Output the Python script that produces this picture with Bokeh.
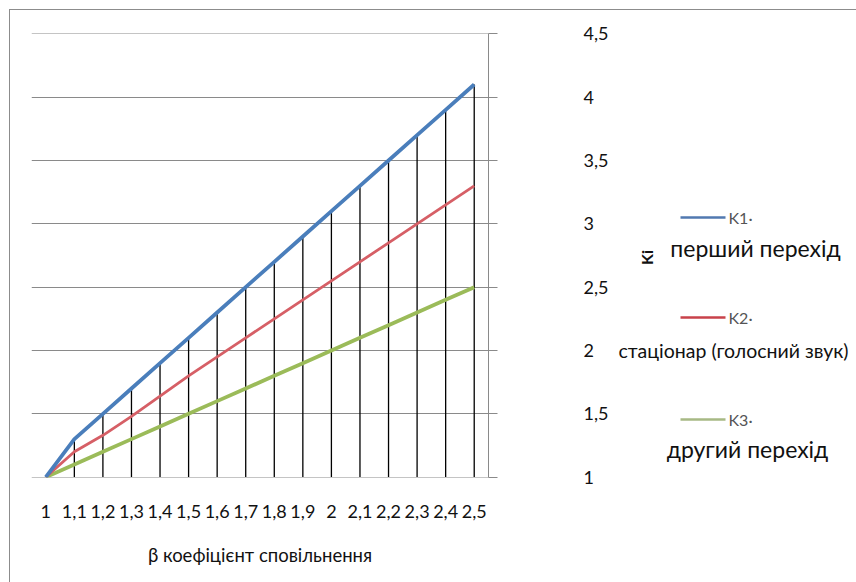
import math
from bokeh.plotting import figure
from bokeh.layouts import row
from bokeh.models import (ColumnDataSource, FactorRange, Range1d, FixedTicker,
                          CustomJSTickFormatter, Label)
from bokeh.embed import file_html
from bokeh.resources import INLINE

# slowdown coefficient β (category labels, decimal comma)
beta = ["1", "1,1", "1,2", "1,3", "1,4", "1,5", "1,6", "1,7",
        "1,8", "1,9", "2", "2,1", "2,2", "2,3", "2,4", "2,5"]
# K1 – first transition
k1 = [1.0, 1.3, 1.5, 1.7, 1.9, 2.1, 2.3, 2.5, 2.7, 2.9, 3.1, 3.3, 3.5, 3.7, 3.9, 4.1]
# K2 – stationary part (vowel)
k2 = [1.0, 1.2, 1.33, 1.48, 1.64, 1.8, 1.95, 2.1, 2.25, 2.4, 2.55, 2.7, 2.85, 3.0, 3.15, 3.3]
# K3 – second transition
k3 = [1.0, 1.1, 1.2, 1.3, 1.4, 1.5, 1.6, 1.7, 1.8, 1.9, 2.0, 2.1, 2.2, 2.3, 2.4, 2.5]
y_ticks = [1, 1.5, 2, 2.5, 3, 3.5, 4, 4.5]

series_names = ["K1·", "K2·", "K3·"]
series_desc = ["перший перехід", "стаціонар (голосний звук)", "другий перехід"]
series_colors = ["#4a7ebb", "#d65f66", "#9bbb59"]
key_colors = ["#5179b0", "#c8424a", "#a7b985"]

FONT = "Lato"
TEXT = "#111111"
W, H = 856, 582
OX, OY = 10, 10               # page offset of the chart area (inside the border)
SPLIT = 616                   # page x where the key panel starts
# plot frame edges on the page (px)
FL, FT, FR, FB = 31, 33, 488, 477

src = ColumnDataSource(dict(beta=beta, k1=k1, k2=k2, k3=k3,
                            base=[y_ticks[0]] * len(beta)))

p = figure(width=SPLIT - OX, height=H - OY, output_backend="svg", toolbar_location=None,
           x_range=FactorRange(*beta, range_padding=0),
           y_range=Range1d(y_ticks[0] - 0.003, y_ticks[-1] + 0.003),
           y_axis_location="right",
           min_border_left=FL - OX, min_border_top=FT - OY,
           min_border_right=SPLIT - FR, min_border_bottom=H - FB)
p.outline_line_color = None
p.background_fill_color = "white"
p.border_fill_color = "white"

# horizontal gridlines
p.xgrid.visible = False
p.ygrid.ticker = FixedTicker(ticks=y_ticks)
p.ygrid.grid_line_color = "#8a8a8a"
p.ygrid.grid_line_width = 1

# drop lines from K1 down to the base
p.segment(x0="beta", y0="base", x1="beta", y1="k1", source=src,
          line_color="black", line_width=1.3)

p.line("beta", "k3", source=src, line_color=series_colors[2], line_width=3.8, line_join="round")
p.line("beta", "k2", source=src, line_color=series_colors[1], line_width=2.8, line_join="round")
p.line("beta", "k1", source=src, line_color=series_colors[0], line_width=3.8, line_join="round")

# x axis
xa = p.xaxis[0]
xa.axis_line_color = None
xa.major_tick_line_color = None
xa.minor_tick_line_color = None
xa.major_label_standoff = 21
xa.major_label_text_font = FONT
xa.major_label_text_font_size = "18px"
xa.major_label_text_color = TEXT
xa.axis_label = "β коефіцієнт сповільнення"
xa.axis_label_text_font = FONT
xa.axis_label_text_font_size = "18.5px"
xa.axis_label_text_font_style = "normal"
xa.axis_label_text_color = TEXT
xa.axis_label_standoff = 23

# y axis on the right
ya = p.yaxis[0]
ya.ticker = FixedTicker(ticks=y_ticks)
ya.formatter = CustomJSTickFormatter(code="return tick.toString().replace('.', ',');")
ya.axis_line_color = "#8a8a8a"
ya.major_tick_line_color = "#8a8a8a"
ya.major_tick_out = 9
ya.major_tick_in = 0
ya.minor_tick_line_color = None
ya.major_label_standoff = 86
ya.major_label_text_font = FONT
ya.major_label_text_font_size = "18px"
ya.major_label_text_color = TEXT

# key panel: the row lines its frame up with the chart frame, so its data
# space is the page pixel grid between the frame's top and bottom edges
q = figure(width=W - SPLIT, height=H - OY, output_backend="svg", toolbar_location=None,
           x_range=Range1d(SPLIT, W), y_range=Range1d(FB, FT),
           x_axis_type=None, y_axis_type=None, min_border=0)
q.outline_line_color = None
q.grid.visible = False
q.background_fill_color = "white"
q.border_fill_color = "white"

# y axis title
q.add_layout(Label(x=646, y=257, text="Ki", angle=math.pi / 2,
                   text_font=FONT, text_font_size="16px", text_font_style="bold",
                   text_color=TEXT, text_align="center", text_baseline="middle"))

key_rows = [217, 317, 419]
desc_rows = [247, 350, 448]
desc_centers = [755, 733, 747]
desc_sizes = ["23px", "19.5px", "23px"]
for i in range(3):
    yy = key_rows[i]
    q.line([680, 725], [yy, yy], line_color=key_colors[i], line_width=2.5)
    q.add_layout(Label(x=728, y=yy, text=series_names[i], text_font=FONT,
                       text_font_size="16px", text_color="#555555",
                       text_align="left", text_baseline="middle"))
    q.add_layout(Label(x=desc_centers[i], y=desc_rows[i], text=series_desc[i],
                       text_font=FONT, text_font_size=desc_sizes[i], text_color=TEXT,
                       text_align="center", text_baseline="middle"))

layout = row(p, q, margin=(OY - 1, 0, 0, OX - 1),
             styles={"border-left": "1px solid #8c8c8c", "border-top": "1px solid #8c8c8c"})

open("out.html", "w").write(file_html(layout, INLINE))
